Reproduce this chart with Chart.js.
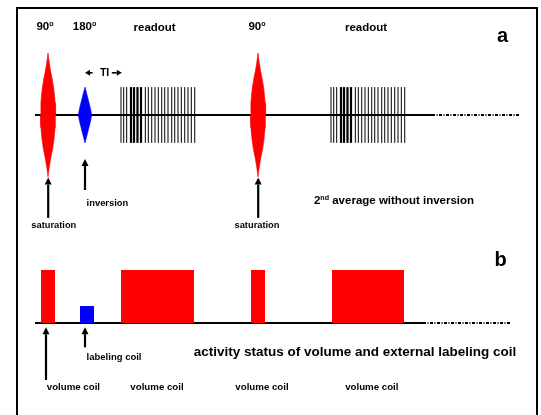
<!DOCTYPE html>
<html>
<head>
<meta charset="utf-8">
<script src="https://cdn.jsdelivr.net/npm/chart.js@4/dist/chart.umd.min.js"></script>
<style>
  html, body { margin: 0; padding: 0; background: #fff; }
  #wrap { position: relative; width: 541px; height: 415px; overflow: hidden; }
  #frame {
    position: absolute; left: 16px; top: 7px; width: 522px; height: 440px;
    box-sizing: border-box; border: 2px solid #000; pointer-events: none;
  }
</style>
</head>
<body>
<div id="wrap">
  <canvas id="seq" width="541" height="415"></canvas>
  <div id="frame"></div>
</div>
<script>
// ---------- Sequence data (time in arbitrary units, amplitude relative to 90° pulse) ----------
const satPulses = [3.25, 55.75];            // 90° saturation pulses
const invPulses = [12.5];                   // 180° inversion pulse
const readoutStarts = [21.5, 74];           // start of each readout train
const readoutThin = [0, 0.68, 1.42, 6.08, 6.83, 7.68, 8.5, 9.33, 10.18, 10.93, 11.75,
                     12.68, 13.43, 14.25, 15.08, 15.93, 16.75, 17.58, 18.43];
const readoutThick = [2.5, 3.25, 4.12, 5.0];
const readoutAmp = 0.45;

// pulse envelopes: level -> half width
const satLevels = [0, 0.2, 0.4, 0.55, 0.7, 0.85, 1];
const satHalfWidth = [1.9, 1.78, 1.5, 1.15, 0.68, 0.3, 0];
const invLevels = [0, 0.11, 0.225, 0.34, 0.45];
const invHalfWidth = [1.7, 1.35, 0.9, 0.45, 0];

const lineEndA = 99.25, dotEndA = 121.25;

// ---------- Coil activity (panel b) ----------
const volumeOn = [[1.5, 5], [21.5, 39.75], [54, 57.5], [74.25, 92.25]];
const volumeLevel = 1;
const labelingOn = [[11.25, 14.75]];
const labelingLevel = 0.32;
const lineEndB = 97, dotEndB = 118.75;

// ---------- Helpers ----------
const FONT = '"Liberation Sans", Arial, sans-serif';

function envelope(center, levels, half, sign) {
  const pts = [];
  levels.forEach((l, i) => pts.push({ x: center - half[i], y: sign * l }));
  for (let i = levels.length - 2; i >= 0; i--) pts.push({ x: center + half[i], y: sign * levels[i] });
  return pts;
}

function pulseSets(centers, levels, half, color) {
  const out = [];
  centers.forEach(c => {
    [1, -1].forEach(s => out.push({
      data: envelope(c, levels, half, s),
      yAxisID: 'yA', showLine: true, fill: 'origin',
      borderColor: color, backgroundColor: color, borderWidth: 0.6,
      pointRadius: 0, order: 0
    }));
  });
  return out;
}

// one short vertical dataset per readout line
function readoutSets(offsets, width) {
  const out = [];
  readoutStarts.forEach(s => offsets.forEach(o => out.push({
    data: [{ x: s + o, y: -readoutAmp }, { x: s + o, y: readoutAmp }],
    yAxisID: 'yA', showLine: true, fill: false,
    borderColor: '#000', borderWidth: width, pointRadius: 0, order: 1
  })));
  return out;
}

function boxSets(spans, level, color) {
  return spans.map(([a, b]) => ({
    data: [{ x: a, y: 0 }, { x: a, y: level }, { x: b, y: level }, { x: b, y: 0 }],
    yAxisID: 'yB', showLine: true, fill: 'origin',
    borderColor: color, backgroundColor: color, borderWidth: 0,
    pointRadius: 0, order: 0
  }));
}

function baseLine(axis, x0, x1, dash, width) {
  return {
    data: [{ x: x0, y: 0 }, { x: x1, y: 0 }],
    yAxisID: axis, showLine: true, fill: false,
    borderColor: '#000', borderWidth: width, borderDash: dash,
    pointRadius: 0, order: 10
  };
}

// ---------- Annotation layout ----------
const texts = [
  { axis: 'yA', x: 2.5,   y: 1.37,  size: 11.5, parts: [['90'], ['o', 1]] },
  { axis: 'yA', x: 12.4,  y: 1.37,  size: 11.5, parts: [['180'], ['o', 1]] },
  { axis: 'yA', x: 29.9,  y: 1.36,  size: 11.5, parts: [['readout']] },
  { axis: 'yA', x: 55.5,  y: 1.37,  size: 11.5, parts: [['90'], ['o', 1]] },
  { axis: 'yA', x: 82.75, y: 1.36,  size: 11.5, parts: [['readout']] },
  { axis: 'yA', x: 116.9, y: 1.185, size: 20,   parts: [['a']] },
  { axis: 'yA', x: 17.4,  y: 0.63,  size: 10.5, parts: [['TI']] },
  { axis: 'yA', x: 4.7,   y: -1.82, size: 9.3,  parts: [['saturation']] },
  { axis: 'yA', x: 12.9,  y: -1.47, size: 9.4,  parts: [['inversion']], align: 'left' },
  { axis: 'yA', x: 55.5,  y: -1.82, size: 9.3,  parts: [['saturation']] },
  { axis: 'yA', x: 89.75, y: -1.44, size: 11.5, parts: [['2'], ['nd', 1], [' average without inversion']] },
  { axis: 'yB', x: 116.4, y: 1.075, size: 20,   parts: [['b']] },
  { axis: 'yB', x: 12.9,  y: -0.70, size: 9.5,  parts: [['labeling coil']], align: 'left' },
  { axis: 'yB', x: 80,    y: -0.62, size: 13.5, parts: [['activity status of volume and external labeling coil']] },
  { axis: 'yB', x: 9.6,   y: -1.26, size: 9.7,  parts: [['volume coil']] },
  { axis: 'yB', x: 30.5,  y: -1.26, size: 9.7,  parts: [['volume coil']] },
  { axis: 'yB', x: 56.75, y: -1.26, size: 9.7,  parts: [['volume coil']] },
  { axis: 'yB', x: 84.2,  y: -1.26, size: 9.7,  parts: [['volume coil']] }
];

const upArrows = [
  { axis: 'yA', x: 3.3,  from: -1.66,  to: -1.01 },
  { axis: 'yA', x: 12.5, from: -1.21,  to: -0.71 },
  { axis: 'yA', x: 55.8, from: -1.66,  to: -1.01 },
  { axis: 'yB', x: 2.75, from: -1.075, to: -0.08 },
  { axis: 'yB', x: 12.5, from: -0.46,  to: -0.08 }
];

const sideArrows = [
  { axis: 'yA', from: 14.4, to: 12.5, y: 0.68 },
  { axis: 'yA', from: 19.2, to: 21.7, y: 0.68 }
];

function drawArrow(ctx, x0, y0, x1, y1, head, halfW, lw) {
  const a = Math.atan2(y1 - y0, x1 - x0);
  const bx = x1 - head * Math.cos(a), by = y1 - head * Math.sin(a);
  ctx.lineWidth = lw;
  ctx.beginPath(); ctx.moveTo(x0, y0); ctx.lineTo(bx, by); ctx.stroke();
  ctx.beginPath();
  ctx.moveTo(x1, y1);
  ctx.lineTo(bx - halfW * Math.sin(a), by + halfW * Math.cos(a));
  ctx.lineTo(bx + halfW * Math.sin(a), by - halfW * Math.cos(a));
  ctx.closePath(); ctx.fill();
}

function drawRich(ctx, parts, x, y, size, align) {
  const fontFor = sup => `bold ${sup ? size * 0.62 : size}px ${FONT}`;
  const widths = parts.map(([t, sup]) => { ctx.font = fontFor(sup); return ctx.measureText(t).width; });
  const total = widths.reduce((s, w) => s + w, 0);
  let cx = align === 'left' ? x : x - total / 2;
  parts.forEach(([t, sup], i) => {
    ctx.font = fontFor(sup);
    ctx.fillText(t, cx, sup ? y - size * 0.36 : y);
    cx += widths[i];
  });
}

const annotations = {
  id: 'annotations',
  afterDatasetsDraw(chart) {
    const { ctx, scales } = chart;
    const xs = scales.x;
    ctx.save();
    ctx.fillStyle = '#000';
    ctx.strokeStyle = '#000';
    ctx.textAlign = 'left';
    ctx.textBaseline = 'alphabetic';
    texts.forEach(t => drawRich(ctx, t.parts, xs.getPixelForValue(t.x),
      scales[t.axis].getPixelForValue(t.y), t.size, t.align));
    upArrows.forEach(a => {
      const px = xs.getPixelForValue(a.x);
      const ys = scales[a.axis];
      drawArrow(ctx, px, ys.getPixelForValue(a.from), px, ys.getPixelForValue(a.to), 7, 3.5, 2.2);
    });
    sideArrows.forEach(a => {
      const py = scales[a.axis].getPixelForValue(a.y);
      drawArrow(ctx, xs.getPixelForValue(a.from), py, xs.getPixelForValue(a.to), py, 5, 3, 1.6);
    });
    ctx.restore();
  }
};

// ---------- Main Render ----------
const datasets = [
  ...pulseSets(satPulses, satLevels, satHalfWidth, '#ff0000'),
  ...pulseSets(invPulses, invLevels, invHalfWidth, '#0000ff'),
  ...readoutSets(readoutThin, 1.0),
  ...readoutSets(readoutThick, 2.2),
  baseLine('yA', 0, lineEndA, [], 2),
  baseLine('yA', lineEndA, dotEndA, [3, 1.5, 1, 1.5], 2),
  ...boxSets(volumeOn, volumeLevel, '#ff0000'),
  ...boxSets(labelingOn, labelingLevel, '#0000ff'),
  baseLine('yB', 0, lineEndB, [], 2),
  baseLine('yB', lineEndB, dotEndB, [3, 1.5, 1, 1.5], 2)
];

new Chart(document.getElementById('seq'), {
  type: 'scatter',
  data: { datasets },
  options: {
    responsive: false,
    animation: false,
    events: [],
    devicePixelRatio: 1,
    layout: { padding: 0 },
    plugins: { legend: { display: false }, tooltip: { enabled: false } },
    elements: { line: { tension: 0 }, point: { radius: 0 } },
    scales: {
      x:  { type: 'linear', display: false, min: -8.75, max: 126.5 },
      yA: { type: 'linear', display: false, min: -4.84, max: 1.855 },
      yB: { type: 'linear', display: false, min: -1.736, max: 6.094 }
    }
  },
  plugins: [annotations]
});
</script>
</body>
</html>
